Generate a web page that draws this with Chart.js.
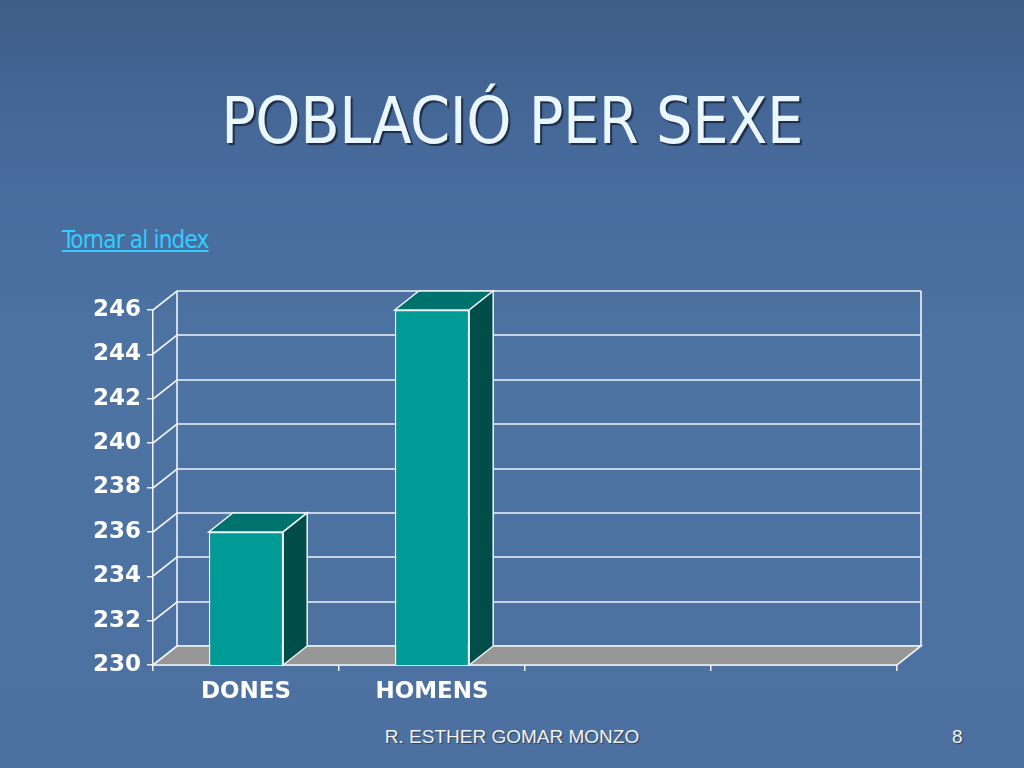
<!DOCTYPE html>
<html>
<head>
<meta charset="utf-8">
<script src="https://cdn.jsdelivr.net/npm/chart.js@4.4.1/dist/chart.umd.min.js"></script>
<style>
    html, body {
        margin: 0;
        padding: 0;
        width: 1024px;
        height: 768px;
        overflow: hidden;
    }
    body {
        position: relative;
        background: linear-gradient(180deg, #3d5e88 0%, #46699a 18%, #4d73a2 45%, #4c71a0 100%);
    }
    .title {
        position: absolute;
        left: 0;
        width: 1024px;
        top: 84px;
        text-align: center;
        font-family: "DejaVu Sans Condensed", "DejaVu Sans", sans-serif;
        font-size: 64px;
        color: #eaf7ff;
        text-shadow: 2px 2px 1px #1c2d45;
        letter-spacing: -0.5px;
    }
    .link {
        position: absolute;
        left: 62px;
        top: 226px;
        font-family: "DejaVu Sans Condensed", "DejaVu Sans", sans-serif;
        font-size: 24px;
        letter-spacing: -0.8px;
        color: #33ccff;
        text-decoration: underline;
    }
    .footer {
        position: absolute;
        top: 726px;
        font-family: "Liberation Sans", Arial, sans-serif;
        font-size: 19px;
        color: #f2f2f2;
        text-shadow: 1px 1px 1px #2a3c58;
    }
    canvas {
        position: absolute;
        left: 0;
        top: 0;
    }
</style>
</head>
<body>
<div class="title">POBLACIÓ PER SEXE</div>
<div class="link">Tornar al index</div>
<div class="footer" style="left:0;width:1024px;text-align:center;">R. ESTHER GOMAR MONZO</div>
<div class="footer" style="left:952px;">8</div>
<canvas id="chart" width="1024" height="768"></canvas>
<script>
// Data
const categories = ['DONES', 'HOMENS', '', ''];
const poblacio = [236, 246, null, null];
const yMin = 230;
const yMax = 246;
const yStep = 2;

// 3D depth offset of the back wall
const depthX = 24;
const depthY = -19;
const lineColor = '#eef3f8';

const threeD = {
    id: 'threeD',
    beforeDatasetsDraw(chart) {
        const { ctx, chartArea: a, scales: { y } } = chart;
        ctx.save();
        ctx.strokeStyle = lineColor;
        ctx.lineWidth = 1.6;

        // Back wall gridlines and side wall diagonals
        y.ticks.forEach(t => {
            const py = Math.round(y.getPixelForValue(t.value));
            ctx.beginPath();
            ctx.moveTo(a.left, py);
            ctx.lineTo(a.left + depthX, py + depthY);
            ctx.lineTo(a.right + depthX, py + depthY);
            ctx.stroke();
        });

        // Back wall edges
        ctx.beginPath();
        ctx.moveTo(a.left + depthX, a.top + depthY);
        ctx.lineTo(a.left + depthX, a.bottom + depthY);
        ctx.moveTo(a.right + depthX, a.top + depthY);
        ctx.lineTo(a.right + depthX, a.bottom + depthY);
        ctx.stroke();

        // Floor
        ctx.beginPath();
        ctx.moveTo(a.left, a.bottom);
        ctx.lineTo(a.right, a.bottom);
        ctx.lineTo(a.right + depthX, a.bottom + depthY);
        ctx.lineTo(a.left + depthX, a.bottom + depthY);
        ctx.closePath();
        ctx.fillStyle = '#969696';
        ctx.fill();
        ctx.stroke();
        ctx.restore();
    },
    afterDatasetsDraw(chart) {
        const { ctx, chartArea: a } = chart;
        const meta = chart.getDatasetMeta(0);
        ctx.save();
        ctx.strokeStyle = lineColor;
        ctx.lineWidth = 1.5;
        meta.data.forEach((bar, i) => {
            if (poblacio[i] == null) return;
            const p = bar.getProps(['x', 'y', 'base', 'width'], true);
            const left = p.x - p.width / 2;
            const right = p.x + p.width / 2;
            const base = Math.min(p.base, a.bottom);

            // Top face
            ctx.beginPath();
            ctx.moveTo(left, p.y);
            ctx.lineTo(right, p.y);
            ctx.lineTo(right + depthX, p.y + depthY);
            ctx.lineTo(left + depthX, p.y + depthY);
            ctx.closePath();
            ctx.fillStyle = '#00726e';
            ctx.fill();
            ctx.stroke();

            // Side face
            ctx.beginPath();
            ctx.moveTo(right, p.y);
            ctx.lineTo(right + depthX, p.y + depthY);
            ctx.lineTo(right + depthX, base + depthY);
            ctx.lineTo(right, base);
            ctx.closePath();
            ctx.fillStyle = '#004d4a';
            ctx.fill();
            ctx.stroke();
        });
        ctx.restore();
    }
};

new Chart(document.getElementById('chart'), {
    type: 'bar',
    data: {
        labels: categories,
        datasets: [{
            data: poblacio,
            backgroundColor: '#009a97',
            borderColor: lineColor,
            borderWidth: 1.5,
            borderSkipped: false,
            barPercentage: 0.4,
            categoryPercentage: 1
        }]
    },
    options: {
        responsive: false,
        animation: false,
        layout: {
            padding: { left: 60, right: 127, top: 310, bottom: 0 }
        },
        plugins: {
            legend: { display: false },
            tooltip: { enabled: false }
        },
        scales: {
            x: {
                offset: true,
                grid: {
                    offset: true,
                    drawOnChartArea: false,
                    color: lineColor,
                    lineWidth: 1.5,
                    tickLength: 6
                },
                border: { display: true, color: lineColor, width: 1.5 },
                ticks: {
                    color: '#ffffff',
                    padding: 7,
                    font: { family: 'DejaVu Sans', size: 23, weight: 'bold' }
                },
                afterFit: s => { s.height = 103; }
            },
            y: {
                min: yMin,
                max: yMax,
                grid: {
                    drawOnChartArea: false,
                    color: lineColor,
                    lineWidth: 1.5,
                    tickLength: 6
                },
                border: { display: true, color: lineColor, width: 1.5 },
                ticks: {
                    stepSize: yStep,
                    color: '#ffffff',
                    padding: 6,
                    font: { family: 'DejaVu Sans', size: 23, weight: 'bold' }
                },
                afterFit: s => { s.width = 93; }
            }
        }
    },
    plugins: [threeD]
});
</script>
</body>
</html>
